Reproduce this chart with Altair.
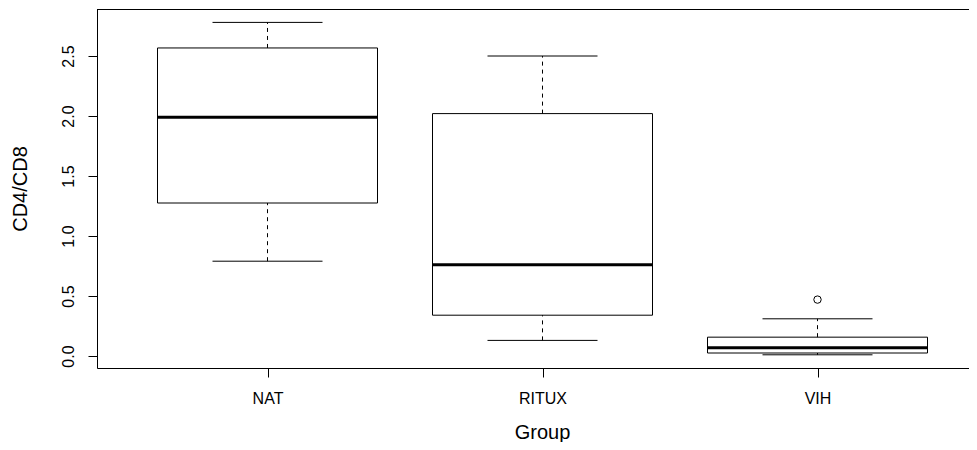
import altair as alt
import pandas as pd

# ---- data ----
groups = ["NAT", "RITUX", "VIH"]
whisker_low = [0.79, 0.13, 0.01]
q1 = [1.275, 0.34, 0.025]
median = [1.99, 0.76, 0.068]
q3 = [2.567, 2.02, 0.157]
whisker_high = [2.78, 2.50, 0.31]
outlier_group = ["VIH"]
outlier_value = [0.47]
y_ticks = [0.0, 0.5, 1.0, 1.5, 2.0, 2.5]
y_tick_labels = ["0.0", "0.5", "1.0", "1.5", "2.0", "2.5"]

box_half = 0.4
cap_half = 0.2

df = pd.DataFrame({
    "group": groups,
    "pos": list(range(1, len(groups) + 1)),
    "lo": whisker_low,
    "q1": q1,
    "med": median,
    "q3": q3,
    "hi": whisker_high,
})
df["bl"] = df["pos"] - box_half
df["br"] = df["pos"] + box_half
df["cl"] = df["pos"] - cap_half
df["cr"] = df["pos"] + cap_half

out_df = pd.DataFrame({
    "group": outlier_group,
    "pos": [groups.index(g) + 1 for g in outlier_group],
    "value": outlier_value,
})

W, H = 872, 359
xs = alt.Scale(domain=[0.38, 0.38 + W / 275.0], nice=False, zero=False)
ys = alt.Scale(domain=[-0.1, 2.8917], nice=False, zero=False)

label_expr = "[" + ",".join("'%s'" % g for g in groups) + "][datum.value - 1]"

x_axis = alt.Axis(
    values=list(range(1, len(groups) + 1)), labelExpr=label_expr,
    title="Group", grid=False, domain=True, domainColor="black", tickColor="black",
    tickSize=9, labelPadding=21, labelBaseline="middle", labelFontSize=16,
    titleFontSize=20, titleFontWeight="normal", titleX=445, titleY=70,
    titleBaseline="alphabetic", titleAlign="center",
)
y_axis = alt.Axis(
    values=y_ticks,
    labelExpr="[" + ",".join("'%s'" % t for t in y_tick_labels) + "][indexof(" + str(y_ticks) + ", datum.value)]",
    title="CD4/CD8", grid=False, domain=True, domainColor="black", tickColor="black",
    tickSize=9, labelPadding=20, labelAngle=270, labelAlign="center", labelBaseline="middle",
    labelFontSize=16, titleFontSize=20, titleFontWeight="normal", titleAngle=270,
    titleX=-76.5, titleY=179.5, titleAlign="center", titleBaseline="middle",
)

base = alt.Chart(df)

boxes = base.mark_rect(fill="white", stroke="black", strokeWidth=1).encode(
    x=alt.X("bl:Q", scale=xs, axis=x_axis),
    x2="br:Q",
    y=alt.Y("q1:Q", scale=ys, axis=y_axis),
    y2="q3:Q",
)

whisk_up = base.mark_rule(color="black", strokeWidth=1, strokeDash=[4, 4]).encode(
    x=alt.X("pos:Q", scale=xs, axis=x_axis),
    y=alt.Y("q3:Q", scale=ys, axis=y_axis),
    y2="hi:Q",
)
whisk_dn = base.mark_rule(color="black", strokeWidth=1, strokeDash=[4, 4]).encode(
    x=alt.X("pos:Q", scale=xs, axis=x_axis),
    y=alt.Y("lo:Q", scale=ys, axis=y_axis),
    y2="q1:Q",
)
cap_hi = base.mark_rule(color="black", strokeWidth=1).encode(
    x=alt.X("cl:Q", scale=xs, axis=x_axis),
    x2="cr:Q",
    y=alt.Y("hi:Q", scale=ys, axis=y_axis),
)
cap_lo = base.mark_rule(color="black", strokeWidth=1).encode(
    x=alt.X("cl:Q", scale=xs, axis=x_axis),
    x2="cr:Q",
    y=alt.Y("lo:Q", scale=ys, axis=y_axis),
)
med = base.mark_rule(color="black", strokeWidth=3).encode(
    x=alt.X("bl:Q", scale=xs, axis=x_axis),
    x2="br:Q",
    y=alt.Y("med:Q", scale=ys, axis=y_axis),
)
outl = alt.Chart(out_df).mark_point(shape="circle", filled=False, color="black",
                                     strokeWidth=1, size=55, opacity=1).encode(
    x=alt.X("pos:Q", scale=xs, axis=x_axis),
    y=alt.Y("value:Q", scale=ys, axis=y_axis),
)
top_frame = alt.Chart(df).mark_rule(color="black", strokeWidth=1).encode(
    x=alt.value(0), x2=alt.value(W), y=alt.value(0.5)
)

chart = alt.layer(boxes, whisk_up, whisk_dn, cap_hi, cap_lo, med, outl, top_frame).properties(
    width=W, height=H,
    autosize=alt.AutoSizeParams(type="none"),
    padding={"left": 89, "top": 1, "right": 0, "bottom": 74},
    background="white",
).configure_view(strokeWidth=0, stroke="transparent").configure(
    font="Liberation Sans"
).configure_axis(labelColor="black", titleColor="black", labelFont="Liberation Sans",
                 titleFont="Liberation Sans")

chart.save("out.html", embed_options={"renderer": "svg", "actions": False})
